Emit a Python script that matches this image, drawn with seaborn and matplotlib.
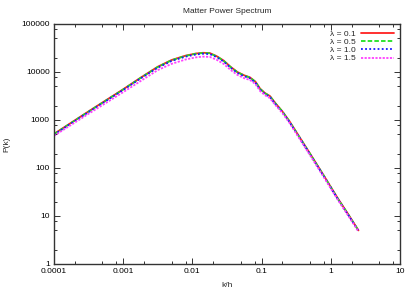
import numpy as np
import pandas as pd
import matplotlib
matplotlib.use("Agg")
import matplotlib.pyplot as plt
import seaborn as sns
from matplotlib.ticker import LogLocator, NullFormatter

# log10(k/h) sample points
log_k = [-4.0, -3.5, -3.0, -2.75, -2.5, -2.3, -2.1, -1.95, -1.85, -1.75, -1.65,
         -1.55, -1.45, -1.35, -1.25, -1.17, -1.09, -1.02, -0.95, -0.88, -0.80,
         -0.70, -0.60, -0.45, -0.30, -0.10, 0.10, 0.25, 0.40]

# log10 P(k) for each lambda
logP_01 = [2.71, 3.18, 3.64, 3.88, 4.11, 4.25, 4.34, 4.385, 4.40, 4.395, 4.33,
           4.24, 4.11, 4.00, 3.93, 3.89, 3.80, 3.65, 3.56, 3.50, 3.35,
           3.18, 2.98, 2.64, 2.30, 1.84, 1.37, 1.04, 0.70]
logP_05 = [2.705, 3.175, 3.635, 3.875, 4.105, 4.245, 4.335, 4.38, 4.395, 4.39, 4.325,
           4.235, 4.105, 3.995, 3.925, 3.885, 3.795, 3.645, 3.555, 3.495, 3.345,
           3.175, 2.975, 2.635, 2.295, 1.835, 1.365, 1.035, 0.695]
logP_10 = [2.695, 3.165, 3.625, 3.865, 4.09, 4.23, 4.32, 4.365, 4.38, 4.375, 4.31,
           4.22, 4.09, 3.98, 3.91, 3.87, 3.78, 3.63, 3.54, 3.48, 3.33,
           3.165, 2.965, 2.625, 2.285, 1.825, 1.355, 1.025, 0.69]
logP_15 = [2.67, 3.13, 3.58, 3.81, 4.04, 4.17, 4.26, 4.305, 4.32, 4.315, 4.255,
           4.17, 4.045, 3.94, 3.87, 3.835, 3.75, 3.60, 3.515, 3.455, 3.31,
           3.145, 2.945, 2.605, 2.265, 1.805, 1.34, 1.01, 0.675]

labels = ["λ = 0.1", "λ = 0.5", "λ = 1.0", "λ = 1.5"]
series = [logP_01, logP_05, logP_10, logP_15]

rows = []
for lab, s in zip(labels, series):
    for lk, lp in zip(log_k, s):
        rows.append({"k": 10 ** lk, "P": 10 ** lp, "lam": lab})
df = pd.DataFrame(rows)

sns.set_style("ticks")
plt.rcParams["font.family"] = ["Liberation Sans", "DejaVu Sans"]

fig = plt.figure(figsize=(4.15, 2.91), dpi=100)
ax = fig.add_axes([54 / 415, 27 / 291, 346 / 415, 240 / 291])

palette = {labels[0]: "#ff2020", labels[1]: "#20e020",
           labels[2]: "#1818ff", labels[3]: "#ff40ff"}
dashes = {labels[0]: "", labels[1]: (2.5, 1.2), labels[2]: (1, 1.3), labels[3]: (1.2, 0.8)}

sns.lineplot(data=df, x="k", y="P", hue="lam", style="lam", palette=palette,
             dashes=dashes, ax=ax, linewidth=1.3, legend=True)

ax.set_xscale("log")
ax.set_yscale("log")
ax.set_xlim(1e-4, 10)
ax.set_ylim(1, 1e5)

xt = [1e-4, 1e-3, 1e-2, 1e-1, 1, 10]
ax.set_xticks(xt)
ax.set_xticklabels(["0.0001", "0.001", "0.01", "0.1", "1", "10"])
yt = [1, 10, 100, 1000, 10000, 100000]
ax.set_yticks(yt)
ax.set_yticklabels(["1", "10", "100", "1000", "10000", "100000"])
ax.xaxis.set_minor_locator(LogLocator(base=10, subs=[2, 5, 8]))
ax.yaxis.set_minor_locator(LogLocator(base=10, subs=[2, 5, 8]))
ax.xaxis.set_minor_formatter(NullFormatter())
ax.yaxis.set_minor_formatter(NullFormatter())

ax.tick_params(which="both", direction="in", top=True, right=True,
               labelsize=6, colors="#333333", labelcolor="black", width=0.7)
ax.tick_params(which="major", length=4, pad=3)
ax.tick_params(which="minor", length=2)
for sp in ax.spines.values():
    sp.set_linewidth(1.0)
    sp.set_color("#333333")

ax.set_xlabel("k/h", fontsize=6, labelpad=5)
ax.set_ylabel("P(k)", fontsize=6, labelpad=8)
ax.set_title("Matter Power Spectrum", fontsize=6, pad=8)

leg = ax.legend(loc="upper right", frameon=False, markerfirst=False, fontsize=6,
                handlelength=4.0, labelspacing=0.05, borderaxespad=0.3,
                handletextpad=0.6)
for t in leg.get_texts():
    t.set_ha("right")

fig.savefig("out.png", dpi=100)
